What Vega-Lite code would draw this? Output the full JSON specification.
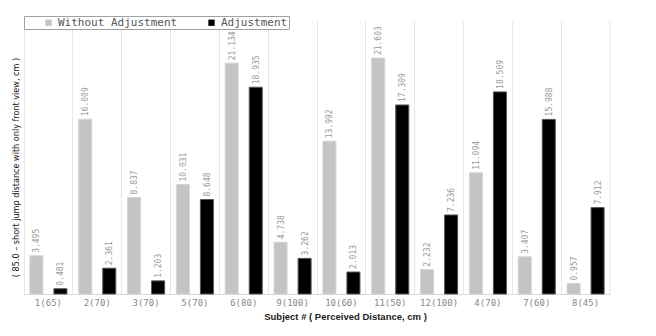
{
  "$schema": "https://vega.github.io/schema/vega-lite/v6.json",
  "autosize": {"type": "none"},
  "padding": {"left": 24, "top": 21, "right": 46, "bottom": 42},
  "width": 586,
  "height": 273,
  "background": "white",
  "config": {"view": {"stroke": null}},
  "data": {"values": [
    {"subject": "1(65)", "type": "Without Adjustment", "value": 3.495},
    {"subject": "1(65)", "type": "Adjustment", "value": 0.481},
    {"subject": "2(70)", "type": "Without Adjustment", "value": 16.009},
    {"subject": "2(70)", "type": "Adjustment", "value": 2.361},
    {"subject": "3(70)", "type": "Without Adjustment", "value": 8.837},
    {"subject": "3(70)", "type": "Adjustment", "value": 1.203},
    {"subject": "5(70)", "type": "Without Adjustment", "value": 10.031},
    {"subject": "5(70)", "type": "Adjustment", "value": 8.648},
    {"subject": "6(80)", "type": "Without Adjustment", "value": 21.134},
    {"subject": "6(80)", "type": "Adjustment", "value": 18.935},
    {"subject": "9(100)", "type": "Without Adjustment", "value": 4.738},
    {"subject": "9(100)", "type": "Adjustment", "value": 3.262},
    {"subject": "10(60)", "type": "Without Adjustment", "value": 13.992},
    {"subject": "10(60)", "type": "Adjustment", "value": 2.013},
    {"subject": "11(50)", "type": "Without Adjustment", "value": 21.603},
    {"subject": "11(50)", "type": "Adjustment", "value": 17.309},
    {"subject": "12(100)", "type": "Without Adjustment", "value": 2.232},
    {"subject": "12(100)", "type": "Adjustment", "value": 7.236},
    {"subject": "4(70)", "type": "Without Adjustment", "value": 11.094},
    {"subject": "4(70)", "type": "Adjustment", "value": 18.509},
    {"subject": "7(60)", "type": "Without Adjustment", "value": 3.407},
    {"subject": "7(60)", "type": "Adjustment", "value": 15.988},
    {"subject": "8(45)", "type": "Without Adjustment", "value": 0.957},
    {"subject": "8(45)", "type": "Adjustment", "value": 7.912}
  ]},
  "encoding": {
    "x": {
      "field": "subject", "type": "nominal", "sort": null,
      "scale": {"paddingInner": 0, "paddingOuter": 0},
      "axis": {
        "title": "Subject # ( Perceived Distance, cm )",
        "titleFont": "Liberation Sans", "titleFontWeight": "bold", "titleFontSize": 9.5, "titleColor": "#222",
        "titleX": 321, "titleY": 22, "titleBaseline": "middle", "titleAnchor": "start", "titleAlign": "center",
        "labelFont": "DejaVu Sans Mono", "labelFontSize": 9, "labelColor": "#888", "labelAngle": 0,
        "labelPadding": 4, "ticks": false, "domainColor": "#d9d9d9",
        "grid": true, "gridColor": "#e6e6e6", "bandPosition": 0
      }
    },
    "xOffset": {
      "field": "type", "type": "nominal",
      "scale": {"domain": ["Without Adjustment", "Adjustment"], "paddingInner": 0.458, "paddingOuter": 0.245}
    },
    "y": {
      "field": "value", "type": "quantitative",
      "scale": {"domain": [0, 25], "nice": false},
      "axis": {
        "title": "( 85.0 \u2013 short jump distance with only front view, cm )",
        "titleFont": "DejaVu Sans Condensed, Liberation Sans Narrow, Liberation Sans", "titleFontSize": 9, "titleFontWeight": "normal", "titleColor": "#111",
        "titleX": -9, "titleY": 146, "titleAlign": "center", "titleBaseline": "middle", "titleAngle": 270,
        "domain": false, "ticks": false, "labels": false, "grid": false
      }
    }
  },
  "layer": [
    {
      "mark": {"type": "bar", "strokeWidth": 1},
      "encoding": {
        "color": {
          "field": "type", "type": "nominal",
          "scale": {"domain": ["Without Adjustment", "Adjustment"], "range": ["#c4c4c4", "#000000"]},
          "legend": {
            "title": null, "orient": "none", "legendX": 0, "legendY": -5, "direction": "horizontal",
            "strokeColor": "#a0a0a0", "fillColor": "white", "padding": 1,
            "symbolType": "square", "symbolSize": 40, "symbolStrokeWidth": 0, "symbolOffset": 18,
            "labelFont": "DejaVu Sans Mono", "labelFontSize": 11, "labelColor": "#555",
            "columnPadding": 10, "labelExpr": "datum.label + '  '"
          }
        },
        "stroke": {
          "field": "type", "type": "nominal",
          "scale": {"domain": ["Without Adjustment", "Adjustment"], "range": ["#d4d4d4", "#555555"]},
          "legend": null
        }
      }
    },
    {
      "mark": {"type": "text", "angle": 270, "align": "left", "baseline": "middle", "dx": 3, "dy": 1,
               "font": "DejaVu Sans Mono", "fontSize": 8, "color": "#999"},
      "encoding": {"text": {"field": "value", "type": "quantitative", "format": ".3f"}}
    },
    {
      "data": {"values": [{"subject": "8(45)"}]},
      "mark": {"type": "rule", "color": "#e6e6e6", "strokeWidth": 1},
      "encoding": {
        "x": {"field": "subject", "type": "nominal", "bandPosition": 1},
        "xOffset": null,
        "y": null
      }
    }
  ]
}
